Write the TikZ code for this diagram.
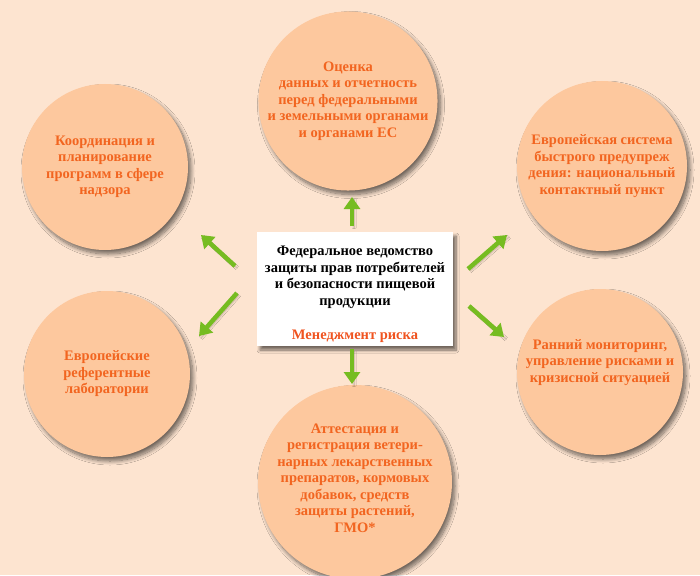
\documentclass[tikz,border=0pt]{standalone}
\usepackage{fontspec}
\setmainfont{Liberation Serif}
\usetikzlibrary{arrows.meta,shadows.blur}
\definecolor{bgc}{HTML}{FDE4D0}
\definecolor{circc}{HTML}{FDC89E}
\definecolor{txto}{HTML}{F26520}
\definecolor{grn}{HTML}{76BC21}
\definecolor{redo}{HTML}{F0531F}
\tikzset{
  topic/.style={circle, fill=circc, minimum size=166pt, inner sep=0pt, align=center,
    text=txto, font=\bfseries\fontsize{14.5}{16.5}\selectfont,
    blur shadow={shadow xshift=3pt, shadow yshift=-4pt, shadow opacity=55,
      shadow blur steps=10, shadow blur radius=4pt}},
  centerbox/.style={rectangle, fill=white, minimum width=196pt, minimum height=114pt,
    inner sep=0pt, align=center, font=\bfseries\fontsize{14.5}{16.5}\selectfont,
    blur shadow={shadow xshift=3pt, shadow yshift=-4pt, shadow opacity=55,
      shadow blur steps=8, shadow blur radius=3pt}},
  garrow/.style={draw=grn, line width=4.5pt, -{Triangle[length=12pt,width=16pt]},
    blur shadow={shadow xshift=2pt, shadow yshift=-2pt, shadow opacity=30,
      shadow blur steps=4, shadow blur radius=2pt}}
}
\begin{document}
\begin{tikzpicture}[x=1pt,y=-1pt]
\fill[bgc] (0,0) rectangle (700,575);
\useasboundingbox (0,0) rectangle (700,575);

\node[topic] (top) at (348,101) {Оценка\\данных и отчетность\\перед федеральными\\и земельными органами\\и органами ЕС};
\node[topic] (ul) at (105,167) {Координация и\\планирование\\программ в сфере\\надзора};
\node[topic] (ll) at (107,374) {Европейские\\референтные\\лаборатории};
\node[topic, minimum size=170pt] (ur) at (602,166) {Европейская система\\быстрого предупреж\\дения: национальный\\контактный пункт};
\node[topic] (lr) at (600,372) {Ранний мониторинг,\\управление рисками и\\кризисной ситуацией\\[6pt]};
\node[topic, minimum size=168pt] (bot) at (355,482) {Аттестация и\\регистрация ветери-\\нарных лекарственных\\препаратов, кормовых\\добавок, средств\\защиты растений,\\ГМО*\\[-8pt]};

\node[centerbox] (c) at (355,289) {Федеральное ведомство\\защиты прав потребителей\\и безопасности пищевой\\продукции\\[18pt]\textcolor{redo}{Менеджмент риска}\\[-24pt]};

\coordinate (upA) at (352,226);
\coordinate (upB) at (352,197);
\coordinate (dnA) at (352,349);
\coordinate (dnB) at (352,384);
\coordinate (ulA) at (235,266);
\coordinate (ulB) at (201,235);
\coordinate (llA) at (237,293);
\coordinate (llB) at (199,336);
\coordinate (urA) at (468,269);
\coordinate (urB) at (507,235);
\coordinate (lrA) at (469,306);
\coordinate (lrB) at (504,337);

\draw[garrow] (upA) -- (upB);
\draw[garrow] (dnA) -- (dnB);
\draw[garrow] (ulA) -- (ulB);
\draw[garrow] (llA) -- (llB);
\draw[garrow] (urA) -- (urB);
\draw[garrow] (lrA) -- (lrB);
\end{tikzpicture}
\end{document}
